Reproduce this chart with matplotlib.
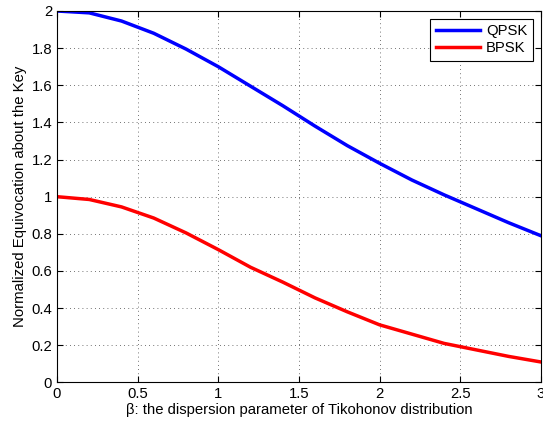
import numpy as np
import matplotlib
matplotlib.use("Agg")
import matplotlib.pyplot as plt

plt.rcParams['font.family'] = ['Liberation Sans', 'DejaVu Sans']

beta = [0.0, 0.2, 0.4, 0.6, 0.8, 1.0, 1.2, 1.4, 1.6, 1.8, 2.0, 2.2, 2.4, 2.6, 2.8, 3.0]
qpsk = [2.0, 1.99, 1.946, 1.88, 1.795, 1.70, 1.595, 1.49, 1.38, 1.275, 1.18, 1.09, 1.01, 0.935, 0.86, 0.79]
bpsk = [1.0, 0.985, 0.945, 0.885, 0.805, 0.715, 0.62, 0.54, 0.455, 0.38, 0.31, 0.26, 0.21, 0.175, 0.14, 0.11]

fs = 10.7

fig = plt.figure(figsize=(5.43, 4.23), dpi=100)
ax = fig.add_axes([0.105, 0.096, 0.891, 0.878])

ax.plot(beta, qpsk, color='#0000ff', lw=2.5, label='QPSK')
ax.plot(beta, bpsk, color='#ff0000', lw=2.5, label='BPSK')

ax.set_xlim(0, 3)
ax.set_ylim(0, 2)
ax.set_xticks(np.arange(0, 3.01, 0.5))
ax.set_xticklabels(['0', '0.5', '1', '1.5', '2', '2.5', '3'])
ax.set_yticks(np.arange(0, 2.01, 0.2))
ax.set_yticklabels(['0', '0.2', '0.4', '0.6', '0.8', '1', '1.2', '1.4', '1.6', '1.8', '2'])
ax.tick_params(direction='in', top=True, right=True, labelsize=fs, length=4)
ax.grid(True, linestyle=(0, (1, 4)), color='#444444', lw=0.6)
for s in ax.spines.values():
    s.set_linewidth(0.8)

ax.set_xlabel('β: the dispersion parameter of Tikohonov distribution', fontsize=fs, labelpad=1)
ax.set_ylabel('Normalized Equivocation about the Key', fontsize=fs, labelpad=3)

leg = ax.legend(loc='upper right', fontsize=fs, fancybox=False, framealpha=1,
                edgecolor='black', borderaxespad=0.55, handlelength=3.0,
                labelspacing=0.2, borderpad=0.35, handletextpad=0.4)
leg.get_frame().set_linewidth(0.8)

fig.savefig('out.png', dpi=100)
